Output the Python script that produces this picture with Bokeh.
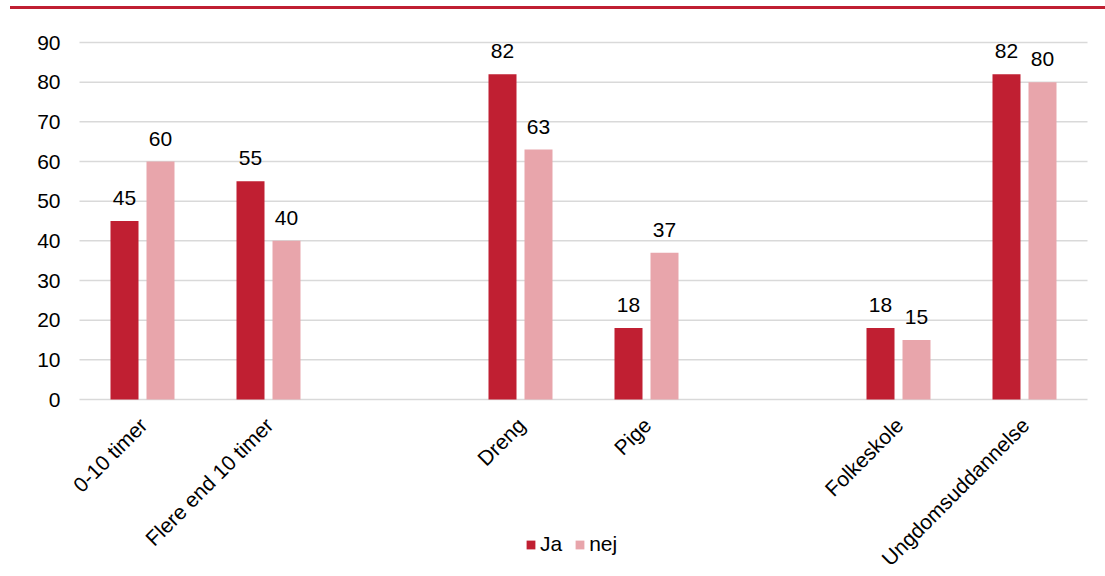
import math
from bokeh.plotting import figure
from bokeh.models import (ColumnDataSource, Range1d, Legend, LegendItem, Div)
from bokeh.layouts import column
from bokeh.embed import file_html
from bokeh.resources import INLINE
from bokeh.core.properties import value

# ---- data ----
groups = [["0-10 timer", "Flere end 10 timer"],
          ["Dreng", "Pige"],
          ["Folkeskole", "Ungdomsuddannelse"]]
categories = [c for g in groups for c in g]
ja = [45, 55, 82, 18, 18, 82]
nej = [60, 40, 63, 37, 15, 80]
series_names = ["Ja", "nej"]
y_ticks = [0, 10, 20, 30, 40, 50, 60, 70, 80, 90]

# ---- styles ----
RED = "#C01F32"
PINK = "#E8A5AB"
GRID = "#D9D9D9"
FONT = "Liberation Sans"
FS = "21px"
TXT = "#000000"

# layout numbers (pixels)
FIG_W, FIG_H = 1105, 565
PLOT_L, PLOT_R, PLOT_T = 79, 1087, 33   # left/right edge of the plot area, top offset
PLOT_H = 357                            # pixel height of the 0..90 value span

# category slot positions: one empty slot between groups
slot_x = []
slot = 0
for i, g in enumerate(groups):
    for _ in g:
        slot_x.append(slot + 0.5)
        slot += 1
    if i < len(groups) - 1:
        slot += 1
n_slots = slot
slot_px = (PLOT_R - PLOT_L) / n_slots

x_start = -PLOT_L / slot_px
x_end = n_slots + (FIG_W - PLOT_R) / slot_px
y_max = y_ticks[-1]
px_per_unit = PLOT_H / y_max
y_end = y_max + PLOT_T / px_per_unit
y_start = y_max - (FIG_H - PLOT_T) / px_per_unit

off = 18 / slot_px
w = 28 / slot_px

src = ColumnDataSource(dict(cat=categories, x=slot_x,
                            xj=[x - off for x in slot_x], xn=[x + off for x in slot_x],
                            ja=ja, nej=nej, zero=[0] * len(categories),
                            ja_txt=[str(v) for v in ja],
                            nej_txt=[str(v) for v in nej]))
tick_src = ColumnDataSource(dict(y=y_ticks, txt=[str(t) for t in y_ticks],
                                 x0=[0] * len(y_ticks), x1=[n_slots] * len(y_ticks)))

p = figure(width=FIG_W, height=FIG_H, x_range=Range1d(x_start, x_end),
           y_range=Range1d(y_start, y_end), output_backend="svg", toolbar_location=None,
           min_border=0)
p.outline_line_color = None
p.background_fill_color = "white"
p.border_fill_color = "white"
p.xaxis.visible = False
p.yaxis.visible = False
p.grid.visible = False

# gridlines and value-axis labels
p.segment(x0="x0", x1="x1", y0="y", y1="y", source=tick_src,
          line_color=GRID, line_width=1.5)
p.text(x="x0", y="y", text="txt", source=tick_src, x_offset=-19,
       text_align="right", text_baseline="middle",
       text_font=value(FONT), text_font_size=FS, text_color=TXT)

# bars
r1 = p.vbar(x="xj", top="ja", width=w, source=src, fill_color=RED, line_color=None)
r2 = p.vbar(x="xn", top="nej", width=w, source=src, fill_color=PINK, line_color=None)

for xc, col in (("xj", "ja"), ("xn", "nej")):
    p.text(x=xc, y=col, text=col + "_txt", source=src,
           text_align="center", text_baseline="alphabetic", y_offset=-23,
           text_font=value(FONT), text_font_size=FS, text_color=TXT)

# category labels (rotated), anchored at the zero line
p.text(x="x", y="zero", text="cat", source=src, angle=math.pi / 4,
       text_align="right", text_baseline="middle", x_offset=1, y_offset=22,
       text_font=value(FONT), text_font_size=FS, text_color=TXT)

legend = Legend(items=[LegendItem(label=series_names[0], renderers=[r1]),
                       LegendItem(label=series_names[1], renderers=[r2])],
                orientation="horizontal", location=(446 + PLOT_L, 18),
                glyph_width=11, glyph_height=11, label_standoff=4, spacing=12,
                padding=0, margin=0, border_line_color=None,
                background_fill_alpha=0,
                label_text_font=FONT, label_text_font_size=FS,
                label_text_color=TXT)
p.add_layout(legend, "center")

top_line = Div(width=1095, height=3, margin=(6, 0, 0, 10),
               styles={"background-color": RED})

layout = column(top_line, p, spacing=0)
open("out.html", "w").write(file_html(layout, INLINE))
